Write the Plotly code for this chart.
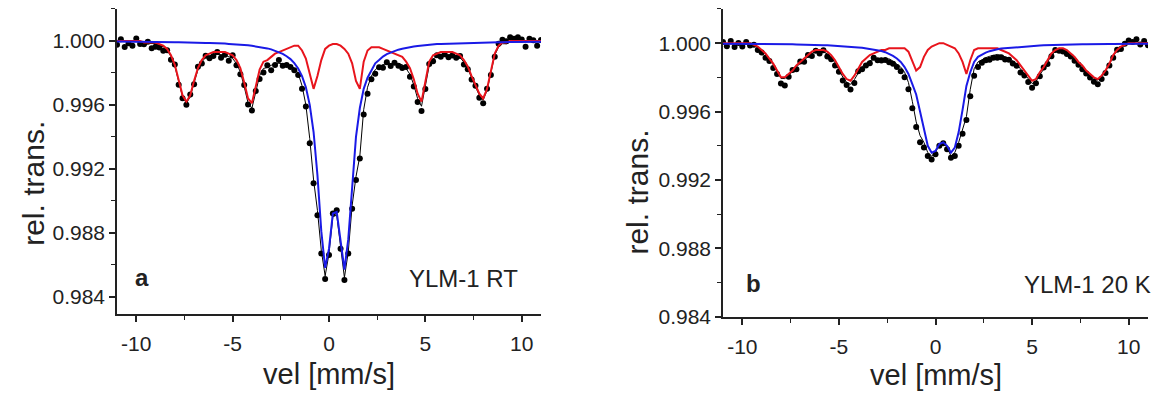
import plotly.graph_objects as go

vel = [-11.0,-10.8,-10.6,-10.4,-10.2,-10.0,-9.8,-9.6,-9.4,-9.2,-9.0,-8.8,-8.6,-8.4,-8.2,-8.0,-7.8,-7.6,-7.4,-7.2,-7.0,
       -6.8,-6.6,-6.4,-6.2,-6.0,-5.8,-5.6,-5.4,-5.2,-5.0,-4.8,-4.6,-4.4,-4.2,-4.0,-3.8,-3.6,-3.4,-3.2,-3.0,
       -2.8,-2.6,-2.4,-2.2,-2.0,-1.8,-1.6,-1.4,-1.2,-1.0,-0.8,-0.6,-0.4,-0.2,0.0,0.2,0.4,0.6,0.8,1.0,
       1.2,1.4,1.6,1.8,2.0,2.2,2.4,2.6,2.8,3.0,3.2,3.4,3.6,3.8,4.0,4.2,4.4,4.6,4.8,5.0,
       5.2,5.4,5.6,5.8,6.0,6.2,6.4,6.6,6.8,7.0,7.2,7.4,7.6,7.8,8.0,8.2,8.4,8.6,8.8,9.0,
       9.2,9.4,9.6,9.8,10.0,10.2,10.4,10.6,10.8,11.0]

# ---- panel a : YLM-1 RT ----
red_a = [1.0000,1.0000,1.0000,1.0000,1.0000,1.0000,1.0000,
         0.9999,0.9999,0.9999,0.9999,
         0.9998,0.9997,0.9995,0.9991,0.9985,0.9975,0.9966,0.9962,0.9966,0.9975,
         0.9983,0.9988,0.9991,0.9992,0.9993,0.9993,0.9993,0.9993,0.9992,0.9991,
         0.9988,0.9983,0.9974,0.9964,0.9961,0.9971,0.9982,0.9987,0.9988,0.9990,
         0.9992,0.9993,0.9994,0.9995,0.9996,0.9997,0.9997,0.9994,0.9989,0.9979,
         0.9970,0.9978,0.9988,0.9995,0.9997,0.9998,0.9998,0.9997,0.9995,0.9992,
         0.9986,0.9975,0.9970,0.9987,0.9994,0.9996,0.9996,0.9996,0.9995,0.9994,
         0.9993,0.9992,0.9991,0.9990,0.9987,0.9983,0.9976,0.9967,0.9962,0.9974,
         0.9987,0.9991,0.9992,0.9993,0.9993,0.9993,0.9993,0.9992,0.9991,0.9988,
         0.9984,0.9978,0.9972,0.9967,0.9964,0.9970,0.9981,0.9992,0.9997,0.9999,
         0.9999,1.0000,1.0000,1.0000,1.0000,1.0000,1.0000,1.0000,1.0000,1.0000]
blue_a = [0.99996,0.99996,0.99996,0.99995,0.99995,0.99995,0.99995,
          0.99994,0.99994,0.99994,0.99993,
          0.99993,0.99993,0.99992,0.99992,0.99992,0.99991,0.99991,0.99990,0.99990,0.99989,
          0.99989,0.99988,0.99987,0.99986,0.99986,0.99985,0.99984,0.99983,0.99981,0.99980,
          0.99978,0.99976,0.99974,0.99972,0.99969,0.99966,0.99962,0.99958,0.99953,0.99947,
          0.99939,0.99930,0.99919,0.99904,0.99886,0.99861,0.99827,0.99780,0.99710,0.99600,
          0.99430,0.99160,0.98810,0.98580,0.98700,0.98920,0.98930,0.98750,0.98570,0.98760,
          0.99110,0.99400,0.99580,0.99700,0.99770,0.99820,0.99860,0.99880,0.99902,0.99917,
          0.99928,0.99938,0.99945,0.99951,0.99957,0.99961,0.99965,0.99968,0.99971,0.99974,
          0.99976,0.99978,0.99980,0.99981,0.99982,0.99983,0.99984,0.99985,0.99986,0.99987,
          0.99988,0.99988,0.99989,0.99989,0.99990,0.99990,0.99991,0.99991,0.99992,0.99992,
          0.99992,0.99993,0.99993,0.99993,0.99994,0.99994,0.99994,0.99994,0.99995,0.99995]
fit_a = [0.99996,0.99996,0.99996,0.99995,0.99995,0.99995,0.99995,
         0.99984,0.99984,0.99984,0.99983,
         0.99973,0.99963,0.99942,0.99902,0.99842,0.99741,0.99651,0.99610,0.99650,0.99739,
         0.99819,0.99868,0.99897,0.99906,0.99916,0.99915,0.99914,0.99913,0.99901,0.99890,
         0.99858,0.99806,0.99714,0.99612,0.99579,0.99676,0.99782,0.99828,0.99833,0.99847,
         0.99859,0.99860,0.99859,0.99854,0.99846,0.99831,0.99797,0.99720,0.99600,0.99390,
         0.99130,0.98940,0.98690,0.98530,0.98670,0.98900,0.98910,0.98720,0.98520,0.98680,
         0.98970,0.99150,0.99280,0.99570,0.99710,0.99780,0.99820,0.99840,0.99852,0.99857,
         0.99858,0.99858,0.99855,0.99851,0.99827,0.99791,0.99725,0.99638,0.99591,0.99714,
         0.99846,0.99888,0.99900,0.99911,0.99912,0.99913,0.99914,0.99905,0.99896,0.99867,
         0.99828,0.99768,0.99709,0.99659,0.99630,0.99690,0.99801,0.99911,0.99962,0.99982,
         0.99982,0.99993,0.99993,0.99993,0.99994,0.99994,0.99994,0.99994,0.99995,0.99995]
data_a = [0.99976,1.00011,0.99961,0.99985,0.99970,1.00015,0.99980,
          0.99979,0.99994,0.99954,0.99963,
          0.99958,0.99938,0.99942,0.99882,0.99852,0.99726,0.99641,0.99600,0.99665,0.99729,
          0.99839,0.99858,0.99907,0.99891,0.99906,0.99930,0.99894,0.99913,0.99876,0.99910,
          0.99848,0.99791,0.99724,0.99602,0.99564,0.99686,0.99762,0.99803,0.99848,0.99817,
          0.99849,0.99880,0.99844,0.99849,0.99836,0.99816,0.99787,0.99700,0.99590,0.99360,
          0.99110,0.98910,0.98670,0.98510,0.98660,0.98920,0.98940,0.98700,0.98505,0.98670,
          0.98950,0.99130,0.99265,0.99540,0.99670,0.99760,0.99795,0.99835,0.99832,0.99867,
          0.99843,0.99863,0.99845,0.99831,0.99837,0.99776,0.99715,0.99618,0.99561,0.99699,
          0.99856,0.99873,0.99910,0.99901,0.99917,0.99898,0.99909,0.99895,0.99906,0.99852,
          0.99823,0.99758,0.99719,0.99644,0.99610,0.99700,0.99786,0.99901,0.99982,1.00007,
          0.99997,1.00023,1.00013,1.00023,1.00009,0.99964,1.00014,1.00004,0.99970,1.00005]

# ---- panel b : YLM-1 20 K ----
red_b = [1.0000,1.0000,1.0000,1.0000,1.0000,1.0000,1.0000,
         1.0000,0.9999,0.9998,0.9996,
         0.9994,0.9991,0.9988,0.9984,0.9980,0.9980,0.9982,0.9984,0.9987,0.9989,
         0.9991,0.9993,0.9995,0.9996,0.9996,0.9996,0.9995,0.9993,0.9990,0.9986,
         0.9982,0.9979,0.9978,0.9981,0.9985,0.9989,0.9991,0.9993,0.9994,0.9995,
         0.9996,0.9996,0.9997,0.9997,0.9997,0.9997,0.9997,0.9995,0.9990,0.9984,
         0.9986,0.9992,0.9996,0.9998,0.9999,1.0000,1.0000,0.9999,0.9998,0.9997,
         0.9994,0.9989,0.9982,0.9990,0.9996,0.9997,0.9997,0.9997,0.9997,0.9997,
         0.9997,0.9996,0.9995,0.9994,0.9992,0.9990,0.9987,0.9984,0.9981,0.9978,
         0.9979,0.9983,0.9986,0.9990,0.9994,0.9996,0.9997,0.9997,0.9996,0.9994,
         0.9992,0.9989,0.9987,0.9984,0.9982,0.9980,0.9979,0.9981,0.9984,0.9988,
         0.9993,0.9996,0.9998,0.9999,1.0000,1.0000,1.0000,1.0000,1.0000,1.0000]
blue_b = [0.99997,0.99997,0.99997,0.99997,0.99996,0.99996,0.99996,
          0.99996,0.99996,0.99995,0.99995,
          0.99995,0.99995,0.99994,0.99994,0.99994,0.99993,0.99993,0.99993,0.99992,0.99992,
          0.99991,0.99991,0.99990,0.99990,0.99989,0.99988,0.99987,0.99986,0.99985,0.99983,
          0.99982,0.99981,0.99979,0.99977,0.99975,0.99973,0.99970,0.99967,0.99964,0.99960,
          0.99954,0.99947,0.99938,0.99925,0.99910,0.99890,0.99860,0.99820,0.99760,0.99700,
          0.99600,0.99500,0.99400,0.99360,0.99370,0.99410,0.99420,0.99400,0.99360,0.99390,
          0.99480,0.99610,0.99750,0.99830,0.99890,0.99920,0.99935,0.99945,0.99953,0.99960,
          0.99964,0.99968,0.99970,0.99973,0.99976,0.99978,0.99979,0.99981,0.99983,0.99984,
          0.99985,0.99986,0.99987,0.99988,0.99989,0.99990,0.99990,0.99991,0.99991,0.99992,
          0.99992,0.99993,0.99993,0.99993,0.99994,0.99994,0.99994,0.99995,0.99995,0.99995,
          0.99995,0.99996,0.99996,0.99996,0.99996,0.99996,0.99997,0.99997,0.99997,0.99997]
fit_b = [0.99997,0.99997,0.99997,0.99997,0.99996,0.99996,0.99996,
         0.99996,0.99986,0.99975,0.99955,
         0.99935,0.99905,0.99874,0.99834,0.99794,0.99793,0.99813,0.99833,0.99862,0.99882,
         0.99901,0.99921,0.99940,0.99950,0.99949,0.99948,0.99937,0.99916,0.99885,0.99843,
         0.99802,0.99771,0.99759,0.99787,0.99825,0.99863,0.99880,0.99897,0.99904,0.99910,
         0.99914,0.99907,0.99908,0.99895,0.99880,0.99860,0.99830,0.99770,0.99660,0.99540,
         0.99460,0.99420,0.99360,0.99340,0.99360,0.99410,0.99420,0.99390,0.99340,0.99360,
         0.99420,0.99500,0.99570,0.99730,0.99850,0.99890,0.99905,0.99915,0.99923,0.99930,
         0.99934,0.99928,0.99920,0.99913,0.99896,0.99878,0.99849,0.99821,0.99793,0.99764,
         0.99775,0.99816,0.99847,0.99888,0.99929,0.99950,0.99960,0.99961,0.99951,0.99932,
         0.99912,0.99883,0.99863,0.99833,0.99814,0.99794,0.99784,0.99805,0.99835,0.99875,
         0.99925,0.99956,0.99976,0.99986,0.99996,0.99996,0.99997,0.99997,0.99997,0.99997]
data_b = [1.00007,0.99982,1.00012,0.99977,1.00001,0.99981,1.00006,
          0.99986,0.99991,0.99960,0.99945,
          0.99915,0.99895,0.99854,0.99819,0.99764,0.99753,0.99803,0.99843,0.99847,0.99892,
          0.99891,0.99931,0.99925,0.99955,0.99939,0.99958,0.99922,0.99906,0.99870,0.99833,
          0.99782,0.99756,0.99729,0.99767,0.99835,0.99848,0.99870,0.99882,0.99914,0.99900,
          0.99899,0.99902,0.99888,0.99880,0.99860,0.99835,0.99800,0.99730,0.99620,0.99510,
          0.99420,0.99390,0.99340,0.99320,0.99350,0.99400,0.99415,0.99380,0.99330,0.99340,
          0.99400,0.99470,0.99550,0.99690,0.99810,0.99860,0.99885,0.99900,0.99903,0.99915,
          0.99914,0.99918,0.99905,0.99903,0.99881,0.99868,0.99829,0.99811,0.99773,0.99739,
          0.99765,0.99806,0.99857,0.99878,0.99924,0.99960,0.99955,0.99951,0.99936,0.99922,
          0.99897,0.99873,0.99848,0.99823,0.99799,0.99774,0.99759,0.99790,0.99825,0.99870,
          0.99915,0.99961,0.99966,0.99996,1.00016,1.00006,1.00022,0.99992,1.00012,0.99987]

x_ticks = [-10, -5, 0, 5, 10]
x_tick_text = ["-10", "-5", "0", "5", "10"]
y_ticks = [0.984, 0.988, 0.992, 0.996, 1.000]
y_tick_text = ["0.984", "0.988", "0.992", "0.996", "1.000"]

FONT = "Liberation Sans, Arial, sans-serif"
RED = "#e8141c"
BLUE = "#1a1ae6"
INK = "#222222"

fig = go.Figure()
for xa, ya, data, fit, red, blue in [("x", "y", data_a, fit_a, red_a, blue_a),
                                      ("x2", "y2", data_b, fit_b, red_b, blue_b)]:
    fig.add_trace(go.Scatter(x=vel, y=data, mode="markers", xaxis=xa, yaxis=ya,
                             marker=dict(color="black", size=6), showlegend=False))
    fig.add_trace(go.Scatter(x=vel, y=fit, mode="lines", xaxis=xa, yaxis=ya,
                             line=dict(color="black", width=1), showlegend=False))
    fig.add_trace(go.Scatter(x=vel, y=red, mode="lines", xaxis=xa, yaxis=ya,
                             line=dict(color=RED, width=2), showlegend=False))
    fig.add_trace(go.Scatter(x=vel, y=blue, mode="lines", xaxis=xa, yaxis=ya,
                             line=dict(color=BLUE, width=2), showlegend=False))

def xaxis(domain, anchor):
    return dict(domain=domain, anchor=anchor, range=[-11, 11],
                tickmode="array", tickvals=x_ticks, ticktext=x_tick_text,
                showline=True, linecolor=INK, linewidth=1.5, ticks="outside",
                ticklen=6, tickwidth=1.5, tickcolor=INK, showgrid=False, zeroline=False,
                ticklabelstandoff=4,
                tickfont=dict(family=FONT, size=21, color=INK),
                minor=dict(dtick=2.5, tick0=0, ticks="outside", ticklen=4, tickcolor=INK, tickwidth=1.2))

def yaxis(domain, anchor, rng):
    return dict(domain=domain, anchor=anchor, range=rng,
                tickmode="array", tickvals=y_ticks, ticktext=y_tick_text,
                showline=True, linecolor=INK, linewidth=1.5, ticks="outside",
                ticklen=6, tickwidth=1.5, tickcolor=INK, showgrid=False, zeroline=False,
                tickfont=dict(family=FONT, size=21, color=INK),
                minor=dict(dtick=0.002, tick0=0.984, ticks="outside", ticklen=4, tickcolor=INK, tickwidth=1.2))

W, H = 1157, 400
fig.update_layout(
    width=W, height=H, margin=dict(l=0, r=0, t=0, b=0),
    paper_bgcolor="white", plot_bgcolor="white",
    xaxis=xaxis([117 / W, 541 / W], "y"),
    yaxis=yaxis([1 - 323 / H, 1 - 9 / H], "x", [0.98291, 1.00201]),
    xaxis2=xaxis([723 / W, 1148 / W], "y2"),
    yaxis2=yaxis([1 - 326 / H, 1 - 9 / H], "x2", [0.98399, 1.00201]),
    font=dict(family=FONT, color=INK),
)

ann = [
    dict(text="rel. trans.", x=34 / W, y=1 - 189 / H, textangle=-90, size=30, weight="normal"),
    dict(text="rel. trans.", x=638 / W, y=1 - 198 / H, textangle=-90, size=30, weight="normal"),
    dict(text="vel [mm/s]", x=329 / W, y=1 - 385 / H, textangle=0, size=29, weight="normal"),
    dict(text="vel [mm/s]", x=936 / W, y=1 - 386 / H, textangle=0, size=29, weight="normal"),
    dict(text="a", x=142 / W, y=1 - 285 / H, textangle=0, size=24, weight="bold"),
    dict(text="YLM-1 RT", x=463 / W, y=1 - 286 / H, textangle=0, size=24, weight="normal"),
    dict(text="b", x=753 / W, y=1 - 292 / H, textangle=0, size=24, weight="bold"),
    dict(text="YLM-1 20 K", x=1087 / W, y=1 - 293 / H, textangle=0, size=24, weight="normal"),
]
for a in ann:
    fig.add_annotation(text=a["text"], x=a["x"], y=a["y"], xref="paper", yref="paper",
                       xanchor="center", yanchor="middle", showarrow=False,
                       textangle=a["textangle"],
                       font=dict(family="Liberation Sans", size=a["size"], color=INK, weight=a["weight"]))

fig.write_html("out.html")
